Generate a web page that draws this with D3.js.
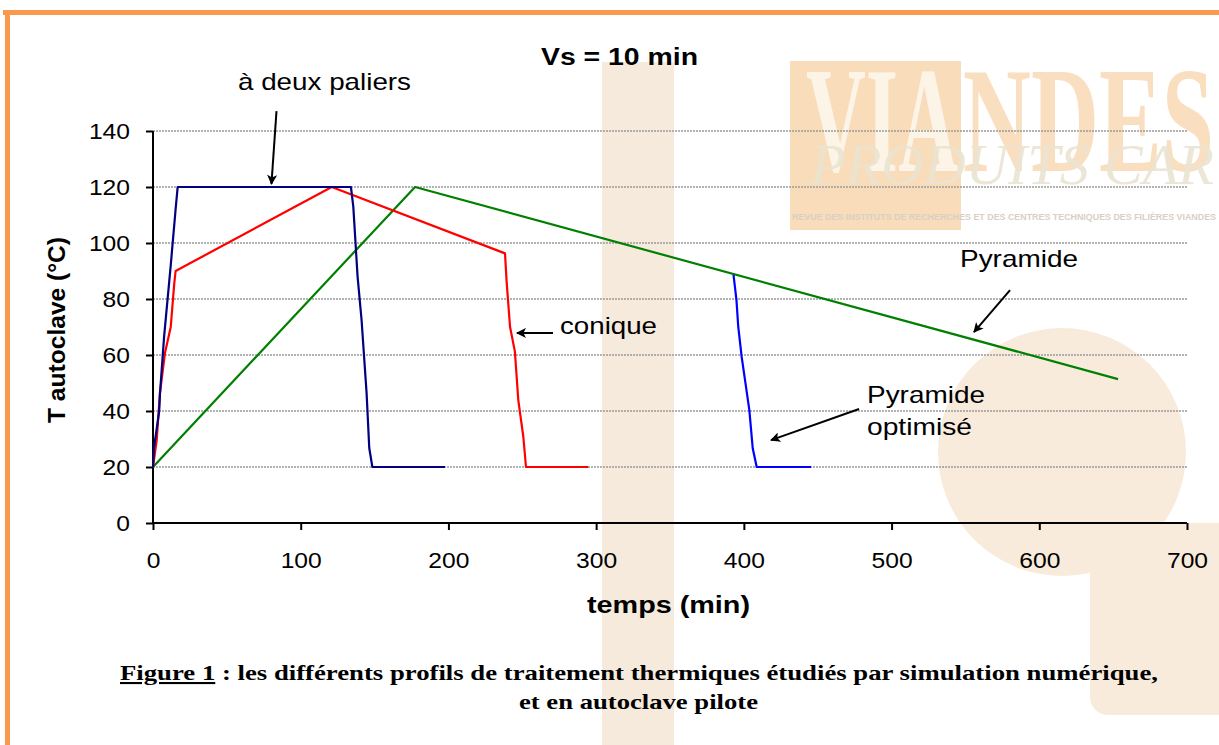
<!DOCTYPE html>
<html><head><meta charset="utf-8">
<script src="https://cdn.jsdelivr.net/npm/d3@7"></script>
<style>body{margin:0;background:#fff}svg{display:block}</style>
</head><body><svg id="c" width="1219" height="745"></svg>
<script>
// ---------- data ----------
const xTicks = [0, 100, 200, 300, 400, 500, 600, 700];
const yTicks = [0, 20, 40, 60, 80, 100, 120, 140];
const gridTicks = [20, 40, 60, 80, 100, 120, 140];

const paliersTime = [0, 0.7, 4.2, 4.7, 7.5, 12, 15.3, 16.7, 134, 135.6, 138.5, 141.2, 144.6, 146.4, 148.5, 197.7];
const paliersTemp = [20, 27, 40, 46, 66.5, 92, 112, 120, 120, 113, 88, 72.5, 46.4, 26.8, 20, 20];

const coniqueTime = [0, 2.5, 4.7, 8.1, 12, 14.4, 15.3, 121, 238.3, 239.4, 241.7, 245, 247.3, 250.7, 252.5, 294.7];
const coniqueTemp = [20, 29.6, 46.4, 60.7, 70, 85.6, 90, 120, 96.3, 86.2, 70.1, 61.2, 43.9, 30.8, 20, 20];

const pyramideTime = [0, 177.4, 653.3];
const pyramideTemp = [20, 120, 51.4];

const optimTime = [393, 395, 396.2, 398.5, 403.7, 406, 408.7, 445.5];
const optimTemp = [88.6, 79.6, 70.1, 59.4, 40.4, 26.7, 20, 20];

const seriesNames = ["à deux paliers", "conique", "Pyramide", "Pyramide optimisé"];
const seriesColors = ["#000080", "#ff0000", "#008000", "#0000ff"];

const titleText = "Vs = 10 min";
const xLabel = "temps (min)";
const yLabel = "T autoclave (°C)";
const captionBold = "Figure 1";
const captionRest = " : les différents profils de traitement thermiques étudiés par simulation numérique,";
const captionLine2 = "et en autoclave pilote";

// ---------- helpers ----------
const svg = d3.select("#c");
const x = d3.scaleLinear().domain([0, 700]).range([153, 1187]);
const y = d3.scaleLinear().domain([0, 140]).range([523, 131]);
function fit(sel, w) { sel.attr("textLength", w).attr("lengthAdjust", "spacingAndGlyphs"); }
function stretch(sel, f) {
  sel.each(function () {
    const w = this.getComputedTextLength();
    this.setAttribute("textLength", w * f);
    this.setAttribute("lengthAdjust", "spacingAndGlyphs");
  });
}

// ---------- background / watermark ----------
const defs = svg.append("defs");
const bg = svg.append("g");
bg.append("rect").attr("x", 602).attr("y", 62).attr("width", 72).attr("height", 700).attr("fill", "#f6eadc");
bg.append("circle").attr("cx", 1062).attr("cy", 452).attr("r", 124).attr("fill", "#f8ebdc");
bg.append("rect").attr("x", 1090).attr("y", 523).attr("width", 160).attr("height", 192).attr("rx", 18).attr("fill", "#f8ebdc");
bg.append("rect").attr("x", 790).attr("y", 61).attr("width", 171).attr("height", 169).attr("fill", "#f9dcba");
const vIn = bg.append("text").attr("x", 806).attr("y", 171).attr("font-family", "Liberation Serif").attr("font-weight", "bold")
  .attr("font-size", 150).attr("fill", "#fdf4e8").text("VIA");
fit(vIn, 152);
const vOut = bg.append("text").attr("x", 963).attr("y", 171).attr("font-family", "Liberation Serif").attr("font-weight", "bold")
  .attr("font-size", 150).attr("fill", "#f9dfbf").text("NDES");
fit(vOut, 251);
const pc = bg.append("text").attr("x", 810).attr("y", 184).attr("font-family", "Liberation Serif").attr("font-style", "italic")
  .attr("font-size", 58).attr("fill", "#ebe4d2").attr("opacity", 0.9).text("PRODUITS CAR");
fit(pc, 404);
const rv = bg.append("text").attr("x", 792).attr("y", 220).attr("font-family", "Liberation Sans").attr("font-weight", "bold")
  .attr("font-size", 9).attr("fill", "#d8d0c4").text("REVUE DES INSTITUTS DE RECHERCHES ET DES CENTRES TECHNIQUES DES FILIÈRES VIANDES");
fit(rv, 424);
// border
bg.append("rect").attr("x", 3).attr("y", 10).attr("width", 1216).attr("height", 5).attr("fill", "#f7994f");
bg.append("rect").attr("x", 5).attr("y", 10).attr("width", 5).attr("height", 735).attr("fill", "#f7994f");

// ---------- grid ----------
svg.append("g").selectAll("line").data(gridTicks).join("line")
  .attr("x1", x(0)).attr("x2", x(700)).attr("y1", d => y(d)).attr("y2", d => y(d))
  .attr("stroke", "#9a9a9a").attr("stroke-width", 1.5).attr("stroke-dasharray", "2,1");

// ---------- axes ----------
const yAxis = svg.append("g").attr("transform", `translate(${x(0)},0)`)
  .call(d3.axisLeft(y).tickValues(yTicks).tickSize(7).tickPadding(16).tickFormat(d3.format("d")));
const xAxis = svg.append("g").attr("transform", `translate(0,${y(0)})`)
  .call(d3.axisBottom(x).tickValues(xTicks).tickSize(7).tickPadding(22).tickFormat(d3.format("d")));
[yAxis, xAxis].forEach(a => {
  a.select(".domain").remove();
  a.selectAll(".tick line").attr("stroke", "#000").attr("stroke-width", 2);
  a.selectAll(".tick text").attr("font-family", "Liberation Sans, Arial").attr("font-size", 22).attr("fill", "#000");
});
stretch(yAxis.selectAll(".tick text"), 1.12);
stretch(xAxis.selectAll(".tick text"), 1.12);
svg.append("line").attr("x1", x(0)).attr("x2", x(0)).attr("y1", y(140)).attr("y2", y(0)).attr("stroke", "#000").attr("stroke-width", 2);
svg.append("line").attr("x1", x(0) - 1).attr("x2", x(700)).attr("y1", y(0)).attr("y2", y(0)).attr("stroke", "#000").attr("stroke-width", 2);

// ---------- series ----------
const series = [
  d3.zip(paliersTime, paliersTemp),
  d3.zip(coniqueTime, coniqueTemp),
  d3.zip(pyramideTime, pyramideTemp),
  d3.zip(optimTime, optimTemp)
];
const line = d3.line().x(d => x(d[0])).y(d => y(d[1]));
[2, 1, 0, 3].forEach(i => {
  svg.append("path").datum(series[i]).attr("d", line).attr("fill", "none")
    .attr("stroke", seriesColors[i]).attr("stroke-width", 2.2).attr("stroke-linejoin", "round");
});

// ---------- arrows & annotations ----------
defs.append("marker").attr("id", "ah").attr("viewBox", "0 0 10 10").attr("refX", 9).attr("refY", 5)
  .attr("markerWidth", 11).attr("markerHeight", 10).attr("markerUnits", "userSpaceOnUse").attr("orient", "auto")
  .append("path").attr("d", "M0,0 L10,5 L0,10 L2.5,5 Z").attr("fill", "#000");
const arrows = [
  [[83.6, 147.1], [80.2, 121.1]],
  [[270.8, 67.9], [246.4, 67.9]],
  [[580.2, 83.2], [555.8, 68.2]],
  [[478, 40.7], [418.4, 29.6]]
];
svg.append("g").selectAll("line").data(arrows).join("line")
  .attr("x1", d => x(d[0][0])).attr("y1", d => y(d[0][1]))
  .attr("x2", d => x(d[1][0])).attr("y2", d => y(d[1][1]))
  .attr("stroke", "#000").attr("stroke-width", 2).attr("marker-end", "url(#ah)");

const labels = [
  [seriesNames[0], 238, 90, 173],
  [seriesNames[1], 560, 334, 97],
  ["Pyramide", 960, 267, 118],
  ["Pyramide", 867, 403, 118],
  ["optimisé", 867, 435, 105]
];
labels.forEach(l => {
  const t = svg.append("text").attr("x", l[1]).attr("y", l[2]).attr("font-family", "Liberation Sans, Arial")
    .attr("font-size", 24).attr("fill", "#000").text(l[0]);
  fit(t, l[3]);
});

const tt = svg.append("text").attr("x", 541).attr("y", 65).attr("font-family", "Liberation Sans, Arial")
  .attr("font-weight", "bold").attr("font-size", 23).text(titleText);
fit(tt, 157);
const xl = svg.append("text").attr("x", 587).attr("y", 613).attr("font-family", "Liberation Sans, Arial")
  .attr("font-weight", "bold").attr("font-size", 23).text(xLabel);
fit(xl, 163);
const yl = svg.append("text").attr("transform", "translate(65,330) rotate(-90)").attr("text-anchor", "middle")
  .attr("font-family", "Liberation Sans, Arial").attr("font-weight", "bold").attr("font-size", 23).text(yLabel);
fit(yl, 186);

const c1 = svg.append("text").attr("x", 120).attr("y", 680).attr("font-family", "Liberation Serif, Times New Roman")
  .attr("font-weight", "bold").attr("font-size", 21);
c1.append("tspan").attr("text-decoration", "underline").text(captionBold);
c1.append("tspan").text(captionRest);
fit(c1, 1038);
const c2 = svg.append("text").attr("x", 519).attr("y", 709).attr("font-family", "Liberation Serif, Times New Roman")
  .attr("font-weight", "bold").attr("font-size", 21).text(captionLine2);
fit(c2, 239);
</script></body></html>
